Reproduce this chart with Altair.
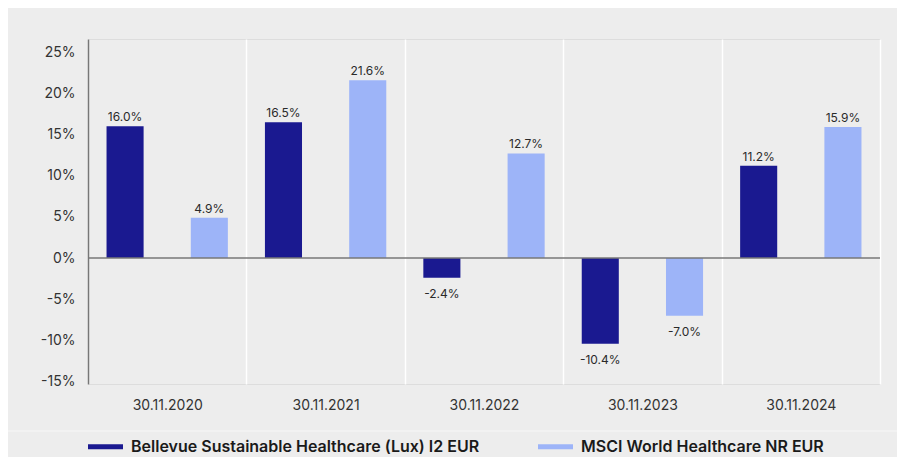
import altair as alt
import pandas as pd

dates = ["30.11.2020", "30.11.2021", "30.11.2022", "30.11.2023", "30.11.2024"]
fund = [16.0, 16.5, -2.4, -10.4, 11.2]
bench = [4.9, 21.6, 12.7, -7.0, 15.9]
series = ["Bellevue Sustainable Healthcare (Lux) I2 EUR", "MSCI World Healthcare NR EUR"]
colors = ["#1a1990", "#9db4f8"]
y_ticks = [-15, -10, -5, 0, 5, 10, 15, 20, 25]

rows = []
for d, f, b in zip(dates, fund, bench):
    rows.append({"date": d, "series": series[0], "value": f})
    rows.append({"date": d, "series": series[1], "value": b})
df = pd.DataFrame(rows)
df["label"] = df["value"].map(lambda v: f"{v:.1f}%")

FONT = "Inter"

x = alt.X("date:N", sort=dates,
          scale=alt.Scale(paddingInner=0, paddingOuter=0),
          axis=alt.Axis(title=None, labelAngle=0, domain=False, ticks=False,
                        grid=True, gridColor="white", gridWidth=1.5, tickBand="extent",
                        labelPadding=14, labelFontSize=14, labelColor="#333333",
                        labelFont=FONT))
xoff = alt.XOffset("series:N", sort=series,
                   scale=alt.Scale(paddingInner=0.56, paddingOuter=0.22))
y = alt.Y("value:Q",
          scale=alt.Scale(domain=[-15.3, 26.6], nice=False, zero=False),
          axis=alt.Axis(title=None, values=y_ticks, labelExpr="datum.value + '%'",
                        grid=False, ticks=False, domainColor="#777777", domainWidth=1.5,
                        labelPadding=13, labelFontSize=14, labelColor="#333333",
                        labelFont=FONT, zindex=2))
color = alt.Color("series:N", sort=series,
                  scale=alt.Scale(domain=series, range=colors),
                  legend=alt.Legend(title=None, orient="none", legendX=0, legendY=390,
                                    direction="horizontal",
                                    symbolType="M-1,-0.143H1V0.143H-1Z",
                                    symbolSize=1225, symbolStrokeWidth=0,
                                    labelFontSize=16, labelFontWeight=600,
                                    labelColor="#1a1a1a", labelFont=FONT,
                                    labelOffset=8, labelLimit=600, columnPadding=58))

base = alt.Chart(df)
bars = base.mark_bar().encode(x=x, xOffset=xoff, y=y, color=color)

pos_labels = base.transform_filter("datum.value >= 0").mark_text(
    dy=-9, baseline="middle", fontSize=12, color="#2a2a2a", font=FONT
).encode(x=x, xOffset=xoff, y=y, text="label:N")
neg_labels = base.transform_filter("datum.value < 0").mark_text(
    dy=16, baseline="middle", fontSize=12, color="#2a2a2a", font=FONT
).encode(x=x, xOffset=xoff, y=y, text="label:N")

zero = alt.Chart(pd.DataFrame({"value": [0]})).mark_rule(
    color="#777777", strokeWidth=1.5
).encode(y=alt.Y("value:Q"))

sep = alt.Chart(pd.DataFrame({"a": [0]})).mark_rule(
    color="#f7f7f7", strokeWidth=1
).encode(x=alt.value(-80), x2=alt.value(809), y=alt.value(392))

chart = alt.layer(bars, zero, pos_labels, neg_labels, sep).properties(
    width=792, height=345,
    autosize=alt.AutoSizeParams(type="none"),
    padding={"left": 80, "top": 31, "right": 17, "bottom": 73},
    background="#ededed",
).configure_view(stroke=None).configure(font=FONT)

chart.save("out.html", embed_options={"renderer": "svg", "actions": False})
